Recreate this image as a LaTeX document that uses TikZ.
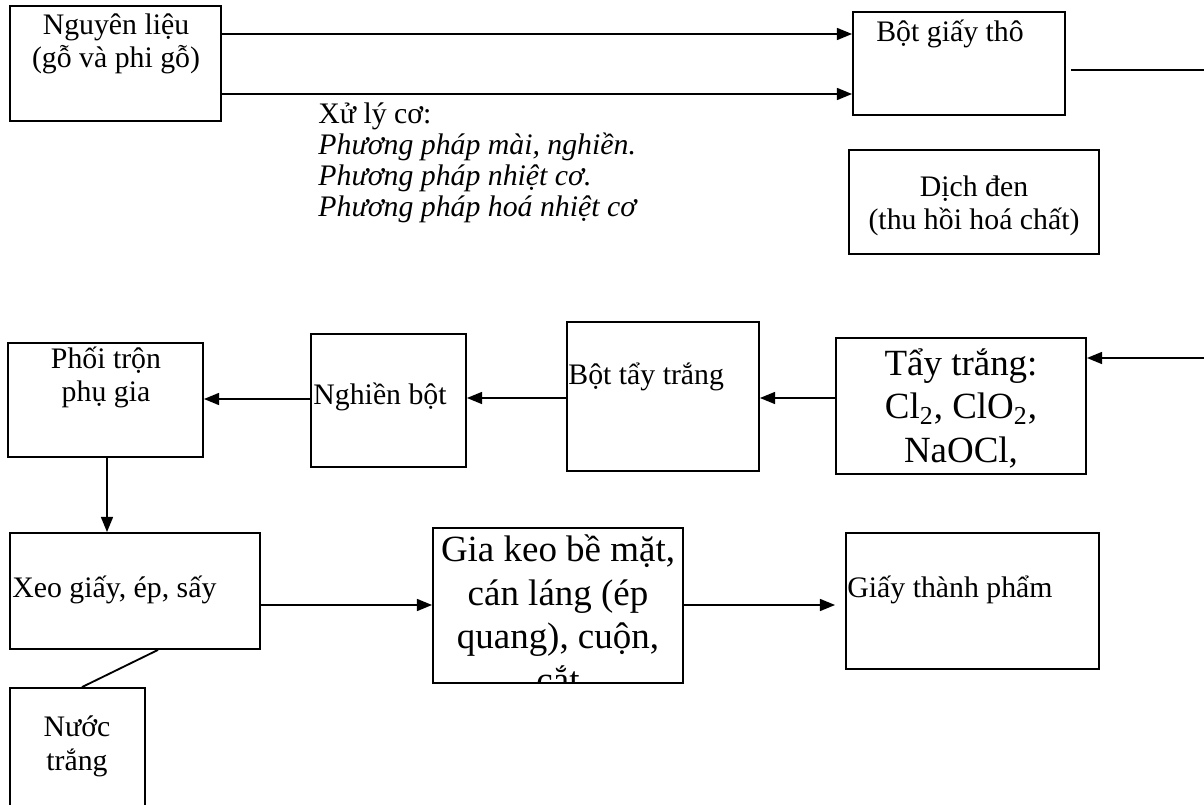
\documentclass[tikz,border=0pt]{standalone}
\usepackage{fontspec}
\setmainfont{Liberation Serif}
\usetikzlibrary{arrows.meta}

\begin{document}
\begin{tikzpicture}[x=0.46pt,y=-0.46pt,
		box/.style 2 args={draw,line width=0.85pt,minimum width=#1*0.46pt,minimum height=#2*0.46pt,inner sep=0pt},
		arr/.style={-{Triangle[length=7pt,width=5.5pt]},line width=0.85pt},
		txt/.style={inner sep=0pt,anchor=base,align=center,font=\fontsize{13.7}{15.5}\selectfont},
		big/.style={txt,font=\fontsize{17}{20}\selectfont}]
			\clip (0,0) rectangle (1204,805);
			\node[box={211}{115}] (raw) at (115.5,63.5) {};
			\node[box={212}{103}] (pulp) at (959,63.5) {};
			\node[box={250}{104}] (liquor) at (974,202) {};
			\node[box={195}{114}] (mix) at (105.5,400) {};
			\node[box={155}{133}] (grind) at (388.5,400.5) {};
			\node[box={192}{149}] (bleached) at (663,396.5) {};
			\node[box={250}{136}] (bleach) at (961,406) {};
			\node[box={250}{116}] (press) at (135,591) {};
			\node[box={250}{155}] (finish) at (558,605.5) {};
			\node[box={253}{136}] (product) at (972.5,601) {};
			\node[box={135}{142}] (water) at (77.5,759) {};
			\coordinate (out) at (1204,70);
			\coordinate (back) at (1204,358);
			\draw[arr] (raw.east |- 0,34) -- (pulp.west |- 0,34);
			\draw[arr] (raw.east |- 0,94) -- (pulp.west |- 0,94);
			\draw[line width=0.85pt,shorten <=2.3pt] (pulp.east |- out) -- (out);
			\draw[arr] (back) -- (bleach.east |- back);
			\draw[arr] (bleach.west |- 0,398) -- (bleached.east |- 0,398);
			\draw[arr] (bleached.west |- 0,398) -- (grind.east |- 0,398);
			\draw[arr] (grind.west |- 0,399) -- (mix.east |- 0,399);
			\draw[arr] (mix.south -| 107,0) -- (press.north -| 107,0);
			\draw[arr] (press.east |- 0,605) -- (finish.west |- 0,605);
			\draw[arr,shorten >=4.6pt] (finish.east |- 0,605) -- (product.west |- 0,605);
			\draw[line width=0.85pt] (press.south -| 158,0) -- (water.north -| 82,0);
			\node[txt] (rawtxt) at (116,68) {Nguyên liệu\\(gỗ và phi gỗ)};
			\node[txt] (pulptxt) at (950,42) {Bột giấy thô};
			\node[txt,anchor=base west,align=left,font=\fontsize{13.7}{14.3}\selectfont] (mech) at (318,217) {Xử lý cơ:\\\textit{Phương pháp mài, nghiền.}\\\textit{Phương pháp nhiệt cơ.}\\\textit{Phương pháp hoá nhiệt cơ}};
			\node[txt] (liquortxt) at (974,230) {Dịch đen\\(thu hồi hoá chất)};
			\node[txt] (mixtxt) at (106,402) {Phối trộn\\phụ gia};
			\node[txt,anchor=base west] (grindtxt) at (313,405) {Nghiền bột};
			\node[txt,anchor=base west] (bleachedtxt) at (568,384) {Bột tẩy trắng};
			\node[big] (bleachtxt) at (961,462) {Tẩy trắng:\\Cl\textsubscript{2}, ClO\textsubscript{2},\\NaOCl,};
			\node[txt,anchor=base west] (presstxt) at (12,597) {Xeo giấy, ép, sấy};
			\begin{scope}
				\clip (finish.north west) rectangle (finish.south east);
				\node[big] (finishtxt) at (558,692) {Gia keo bề mặt,\\cán láng (ép\\quang), cuộn,\\cắt};
			\end{scope}
			\node[txt,anchor=base west] (producttxt) at (847,597) {Giấy thành phẩm};
			\node[txt] (watertxt) at (77,770) {Nước\\trắng};
		\end{tikzpicture}
\end{document}
